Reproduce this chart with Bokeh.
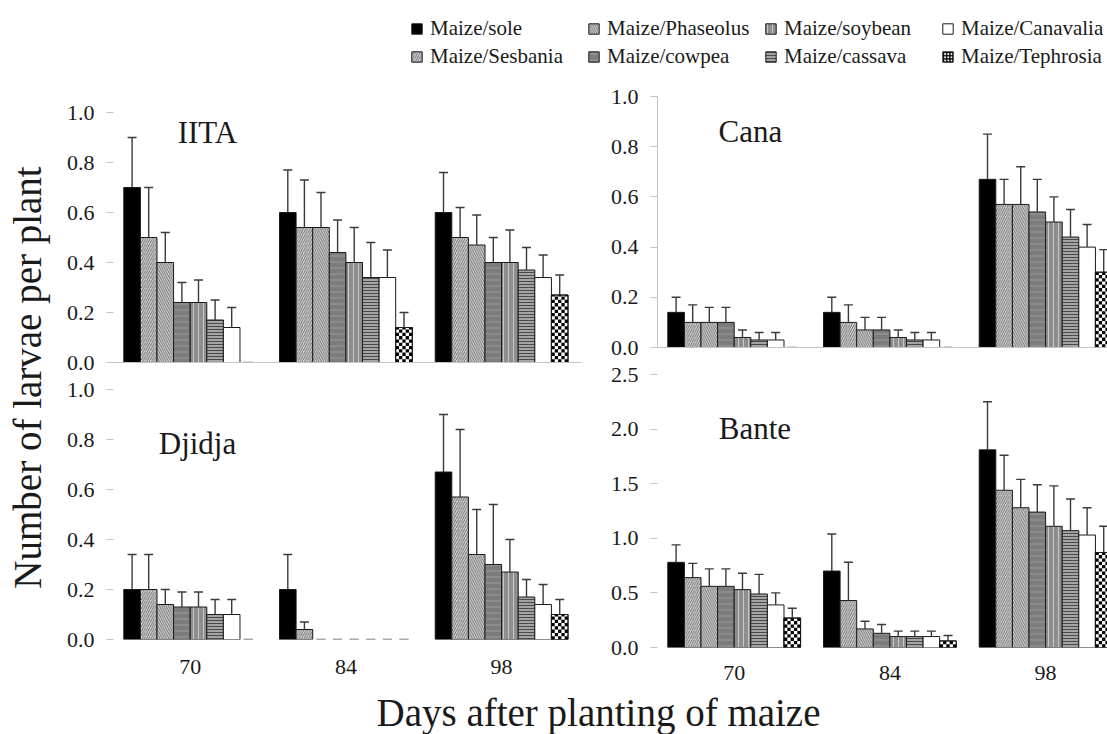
import math
from bokeh.plotting import figure
from bokeh.layouts import column, row
from bokeh.models import (ColumnDataSource, Range1d, FixedTicker, PrintfTickFormatter,
                          Whisker, TeeHead, Legend, LegendItem)
from bokeh.embed import file_html
from bokeh.resources import INLINE
from bokeh.core.properties import value

# ---------------- data ----------------
treatments = ["Maize/sole", "Maize/Sesbania", "Maize/Phaseolus", "Maize/cowpea",
              "Maize/soybean", "Maize/cassava", "Maize/Canavalia", "Maize/Tephrosia"]
days = ["70", "84", "98"]

iita_mean = [[0.70, 0.50, 0.40, 0.24, 0.24, 0.17, 0.14, 0.00],
             [0.60, 0.54, 0.54, 0.44, 0.40, 0.34, 0.34, 0.14],
             [0.60, 0.50, 0.47, 0.40, 0.40, 0.37, 0.34, 0.27]]
iita_se = [[0.20, 0.20, 0.12, 0.08, 0.09, 0.08, 0.08, 0.00],
           [0.17, 0.19, 0.14, 0.13, 0.14, 0.14, 0.11, 0.06],
           [0.16, 0.12, 0.12, 0.10, 0.13, 0.09, 0.09, 0.08]]

cana_mean = [[0.14, 0.10, 0.10, 0.10, 0.04, 0.03, 0.03, 0.00],
             [0.14, 0.10, 0.07, 0.07, 0.04, 0.03, 0.03, 0.00],
             [0.67, 0.57, 0.57, 0.54, 0.50, 0.44, 0.40, 0.30]]
cana_se = [[0.06, 0.07, 0.06, 0.06, 0.03, 0.03, 0.03, 0.00],
           [0.06, 0.07, 0.05, 0.05, 0.03, 0.03, 0.03, 0.00],
           [0.18, 0.10, 0.15, 0.13, 0.10, 0.11, 0.09, 0.09]]

djidja_mean = [[0.20, 0.20, 0.14, 0.13, 0.13, 0.10, 0.10, 0.00],
               [0.20, 0.04, 0.00, 0.00, 0.00, 0.00, 0.00, 0.00],
               [0.67, 0.57, 0.34, 0.30, 0.27, 0.17, 0.14, 0.10]]
djidja_se = [[0.14, 0.14, 0.06, 0.06, 0.06, 0.06, 0.06, 0.00],
             [0.14, 0.03, 0.00, 0.00, 0.00, 0.00, 0.00, 0.00],
             [0.23, 0.27, 0.18, 0.24, 0.13, 0.07, 0.08, 0.06]]

bante_mean = [[0.78, 0.64, 0.56, 0.56, 0.53, 0.49, 0.39, 0.27],
              [0.70, 0.43, 0.17, 0.13, 0.10, 0.10, 0.10, 0.06],
              [1.81, 1.44, 1.28, 1.24, 1.11, 1.07, 1.03, 0.87]]
bante_se = [[0.16, 0.13, 0.16, 0.16, 0.15, 0.18, 0.11, 0.09],
            [0.34, 0.35, 0.07, 0.08, 0.05, 0.05, 0.05, 0.05],
            [0.44, 0.32, 0.26, 0.25, 0.37, 0.29, 0.25, 0.24]]

lr_ticks = [0.0, 0.2, 0.4, 0.6, 0.8, 1.0]
bante_ticks = [0.0, 0.5, 1.0, 1.5, 2.0, 2.5]

# ---------------- styles ----------------
OUT = "#1a1a1a"
styles = [
    dict(fill_color="black", line_color=OUT),
    dict(fill_color="#dadada", hatch_pattern="/", hatch_color="#5a5a5a", hatch_scale=4.5, hatch_weight=0.9, line_color=OUT),
    dict(fill_color="#dadada", hatch_pattern="\\", hatch_color="#5a5a5a", hatch_scale=4.5, hatch_weight=0.9, line_color=OUT),
    dict(fill_color="#7c7c7c", hatch_pattern="-", hatch_color="#9c9c9c", hatch_scale=6, hatch_weight=1, line_color=OUT),
    dict(fill_color="#8e8e8e", hatch_pattern="|", hatch_color="#c8c8c8", hatch_scale=5, hatch_weight=1, line_color=OUT),
    dict(fill_color="#a4a4a4", hatch_pattern="-", hatch_color="#4a4a4a", hatch_scale=3, hatch_weight=1, line_color=OUT),
    dict(fill_color="white", line_color=OUT),
    dict(fill_color="white", line_color=OUT),   # checker cells drawn on top
]
legend_styles = list(styles)
legend_styles[7] = dict(fill_color="white", hatch_pattern="+", hatch_color="black",
                        hatch_scale=3.2, hatch_weight=1.6, line_color=OUT)

FONT = "Liberation Serif"
BAR_PX = 16.6
PERIOD = 9.38
X0 = -0.62
CELL_PX = 3.3
NCELL = 5


def blank_fig(**kw):
    f = figure(title=None, output_backend="svg", toolbar_location=None, min_border=0,
               x_axis_location=None, y_axis_location=None, **kw)
    f.outline_line_color = None
    f.grid.visible = False
    return f


def panel(mean, se, ymax, yticks, width, height, bl, br, bt, bb, show_days, standoff,
          title, title_xy, axis_line_x, axis_line_y):
    frame_w = width - bl - br
    frame_h = height - bt - bb
    p = figure(title=None, width=width, height=height,
               x_range=Range1d(X0, X0 + frame_w / BAR_PX), y_range=Range1d(0, ymax),
               output_backend="svg", toolbar_location=None,
               min_border_left=bl, min_border_right=br, min_border_top=bt, min_border_bottom=bb)
    p.outline_line_color = None
    p.grid.visible = False

    for j in range(len(treatments)):
        xs = [g * PERIOD + j + 0.5 for g in range(len(days)) if mean[g][j] > 0]
        tops = [mean[g][j] for g in range(len(days)) if mean[g][j] > 0]
        if xs:
            p.vbar(x=xs, top=tops, bottom=0, width=1.0, line_width=1, **styles[j])
        zx = [g * PERIOD + j + 0.5 for g in range(len(days)) if mean[g][j] == 0]
        if zx:
            p.segment(x0=[x - 0.28 for x in zx], x1=[x + 0.28 for x in zx],
                      y0=[0] * len(zx), y1=[0] * len(zx), line_color="#555555", line_width=1.5)

    # checkerboard texture for the last treatment (Tephrosia)
    jt = len(treatments) - 1
    ch = CELL_PX * ymax / frame_h
    cw = 1.0 / NCELL
    ql, qr, qb, qt = [], [], [], []
    tx, tt = [], []
    for g in range(len(days)):
        m = mean[g][jt]
        if m <= 0:
            continue
        left = g * PERIOD + jt
        tx.append(left + 0.5)
        tt.append(m)
        nrow = int(math.ceil(m / ch))
        for r in range(nrow):
            for c in range(NCELL):
                if (r + c) % 2 == 0:
                    ql.append(left + c * cw)
                    qr.append(left + (c + 1) * cw)
                    qb.append(r * ch)
                    qt.append(min((r + 1) * ch, m))
    if ql:
        p.quad(left=ql, right=qr, bottom=qb, top=qt, fill_color="black", line_color=None)
        p.vbar(x=tx, top=tt, bottom=0, width=1.0, fill_alpha=0, line_color=OUT, line_width=1)

    bx, lo, up = [], [], []
    for g in range(len(days)):
        for j in range(len(treatments)):
            if se[g][j] > 0:
                bx.append(g * PERIOD + j + 0.5)
                lo.append(mean[g][j])
                up.append(mean[g][j] + se[g][j])
    src = ColumnDataSource(dict(x=bx, lower=lo, upper=up))
    w = Whisker(source=src, base="x", lower="lower", upper="upper", dimension="height",
                line_color="#3a3a3a", line_width=1.4, lower_head=None,
                upper_head=TeeHead(size=9, line_color="#3a3a3a", line_width=1.4))
    w.level = "annotation"
    p.add_layout(w)

    p.text(x=[title_xy[0]], y=[title_xy[1]], text=[title], text_font=value(FONT),
           text_font_size="31px", text_align="center", text_baseline="middle",
           text_color="#1a1a1a")

    ya = p.yaxis[0]
    ya.ticker = FixedTicker(ticks=yticks)
    ya.formatter = PrintfTickFormatter(format="%.1f")
    ya.major_label_text_font = FONT
    ya.major_label_text_font_size = "22px"
    ya.major_label_text_color = "#1a1a1a"
    ya.major_tick_in = 0
    ya.major_tick_out = 7
    ya.major_tick_line_color = "#c4c4c4"
    ya.minor_tick_line_color = None
    ya.major_label_standoff = 12
    ya.axis_line_color = axis_line_y

    xa = p.xaxis[0]
    xa.minor_tick_line_color = None
    xa.major_tick_line_color = None
    xa.axis_line_color = axis_line_x
    if show_days:
        centers = [g * PERIOD + 4 for g in range(len(days))]
        xa.ticker = FixedTicker(ticks=centers)
        xa.major_label_overrides = {c: d for c, d in zip(centers, days)}
        xa.major_label_text_font = FONT
        xa.major_label_text_font_size = "22px"
        xa.major_label_text_color = "#1a1a1a"
        xa.major_label_standoff = standoff
        xa.major_tick_out = 0
    else:
        xa.ticker = FixedTicker(ticks=[])
        xa.major_label_standoff = 0
        xa.major_tick_out = 0
    return p


p_iita = panel(iita_mean, iita_se, 1.0, lr_ticks, 540, 303, 53, 19, 40, 13, False, 0,
               "IITA", (5.04, 0.921), "#c4c4c4", None)
p_djidja = panel(djidja_mean, djidja_se, 1.0, lr_ticks, 540, 315, 53, 19, 14, 51, True, 20,
                 "Djidja", (4.44, 0.784), None, None)
p_cana = panel(cana_mean, cana_se, 1.0, lr_ticks, 507, 288, 57, 0, 24, 13, False, 0,
               "Cana", (4.98, 0.860), "#c4c4c4", "#c4c4c4")
p_bante = panel(bante_mean, bante_se, 2.5, bante_ticks, 507, 330, 57, 0, 14, 43, True, 18,
                "Bante", (5.25, 2.01), None, None)

# ---------------- legend strip ----------------
lg = blank_fig(width=1107, height=72, x_range=Range1d(0, 1), y_range=Range1d(0, 1))
items = []
for j, t in enumerate(treatments):
    r = lg.vbar(x=[0.5], top=[-2], bottom=[-3], width=0.1, line_width=1, **legend_styles[j])
    items.append(LegendItem(label=t, renderers=[r]))
leg = Legend(items=items, ncols=4, location=(410, 3), orientation="vertical",
             label_text_font=FONT, label_text_font_size="21px", label_text_color="#1a1a1a",
             glyph_width=13, glyph_height=13, label_standoff=7, spacing=3,
             label_width=154, padding=0, margin=0, border_line_color=None,
             background_fill_alpha=0)
lg.add_layout(leg)

# ---------------- shared axis titles ----------------
yl = blank_fig(width=60, height=618, x_range=Range1d(0, 60), y_range=Range1d(0, 618))
yl.text(x=[27], y=[690 - 377], text=["Number of larvae per plant"], angle=math.pi / 2,
        text_font=value(FONT), text_font_size="39px", text_align="center",
        text_baseline="middle", text_color="#1a1a1a")

xl = blank_fig(width=1107, height=44, x_range=Range1d(0, 1107), y_range=Range1d(0, 44))
xl.text(x=[598], y=[734 - 712], text=["Days after planting of maize"],
        text_font=value(FONT), text_font_size="39px", text_align="center",
        text_baseline="middle", text_color="#1a1a1a")

layout = column(lg,
                row(yl, column(p_iita, p_djidja), column(p_cana, p_bante)),
                xl)

open("out.html", "w").write(file_html(layout, INLINE))
